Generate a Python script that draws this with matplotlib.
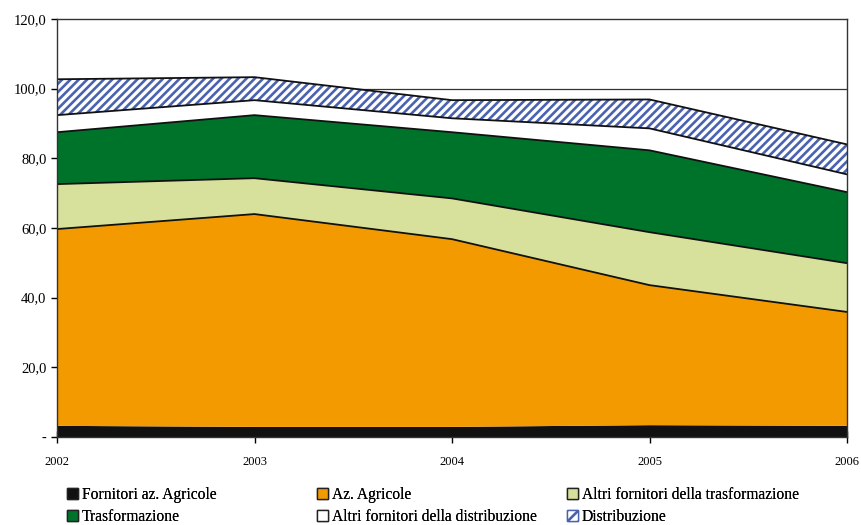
import matplotlib.pyplot as plt
from matplotlib.patches import Patch

plt.rcParams['font.family'] = ['Liberation Serif', 'DejaVu Serif']
plt.rcParams['hatch.linewidth'] = 1.9

years = [2002, 2003, 2004, 2005, 2006]
fornitori_agr = [3.2, 2.9, 2.9, 3.4, 3.2]
az_agricole = [56.5, 61.1, 53.9, 40.2, 32.7]
altri_trasf = [12.9, 10.3, 11.7, 15.2, 14.0]
trasformazione = [14.9, 18.1, 19.0, 23.5, 20.4]
altri_distr = [4.9, 4.3, 4.0, 6.3, 5.1]
distribuzione = [10.3, 6.6, 5.2, 8.3, 8.6]

names = ['Fornitori az. Agricole', 'Az. Agricole', 'Altri fornitori della trasformazione',
         'Trasformazione', 'Altri fornitori della distribuzione', 'Distribuzione']
series = [fornitori_agr, az_agricole, altri_trasf, trasformazione, altri_distr, distribuzione]
colors = ['#111111', '#F29A00', '#D7E19B', '#00732B', '#FFFFFF', '#FFFFFF']
hatch_blue = '#4A62B0'

fig = plt.figure(figsize=(8.62, 5.25), dpi=100)
ax = fig.add_axes([57/862, 88/525, 790/862, 418/525])

# gridlines behind the areas
for v in [20, 40, 60, 80, 100]:
    ax.axhline(v, color='#333333', lw=0.9, zorder=0)

bottom = [0]*len(years)
for i in range(len(series)):
    top = [b + s for b, s in zip(bottom, series[i])]
    if names[i] == 'Distribuzione':
        ax.fill_between(years, bottom, top, facecolor='white', edgecolor=hatch_blue,
                        hatch='////', linewidth=0, zorder=2)
    else:
        ax.fill_between(years, bottom, top, facecolor=colors[i], linewidth=0, zorder=2)
    if i > 0:
        ax.plot(years, top, color='#111111', lw=1.3, zorder=3)
    bottom = top

ax.set_xlim(2002, 2006)
ax.set_ylim(0, 120)
ax.set_xticks(years)
ax.set_xticklabels([str(y) for y in years], fontsize=9)
ax.set_yticks([0, 20, 40, 60, 80, 100, 120])
ax.set_yticklabels(['-', '20,0', '40,0', '60,0', '80,0', '100,0', '120,0'], fontsize=10.5)
ax.tick_params(axis='x', direction='inout', length=8, pad=10, width=1)
ax.tick_params(axis='y', direction='out', length=4, width=1)
for s in ax.spines.values():
    s.set_color('#333333')
    s.set_linewidth(1)
    s.set_zorder(4)

# legend: three columns, each its own legend so they sit at fixed x
handles = []
for i in range(len(names)):
    if names[i] == 'Distribuzione':
        handles.append(Patch(facecolor='white', edgecolor=hatch_blue, hatch='///', label=names[i]))
    else:
        handles.append(Patch(facecolor=colors[i], edgecolor='#222222', label=names[i]))
col_x = [59, 309, 559]
for c in range(3):
    h = [handles[c], handles[c+3]]
    leg = fig.legend(h, [x.get_label() for x in h], loc='upper left',
                     bbox_to_anchor=(col_x[c]/862, 46/525), frameon=False, borderpad=0,
                     fontsize=11.2, handlelength=0.75, handleheight=0.75, handletextpad=0.2,
                     labelspacing=0.4)
    fig.add_artist(leg)

plt.savefig('out.png', dpi=100)
